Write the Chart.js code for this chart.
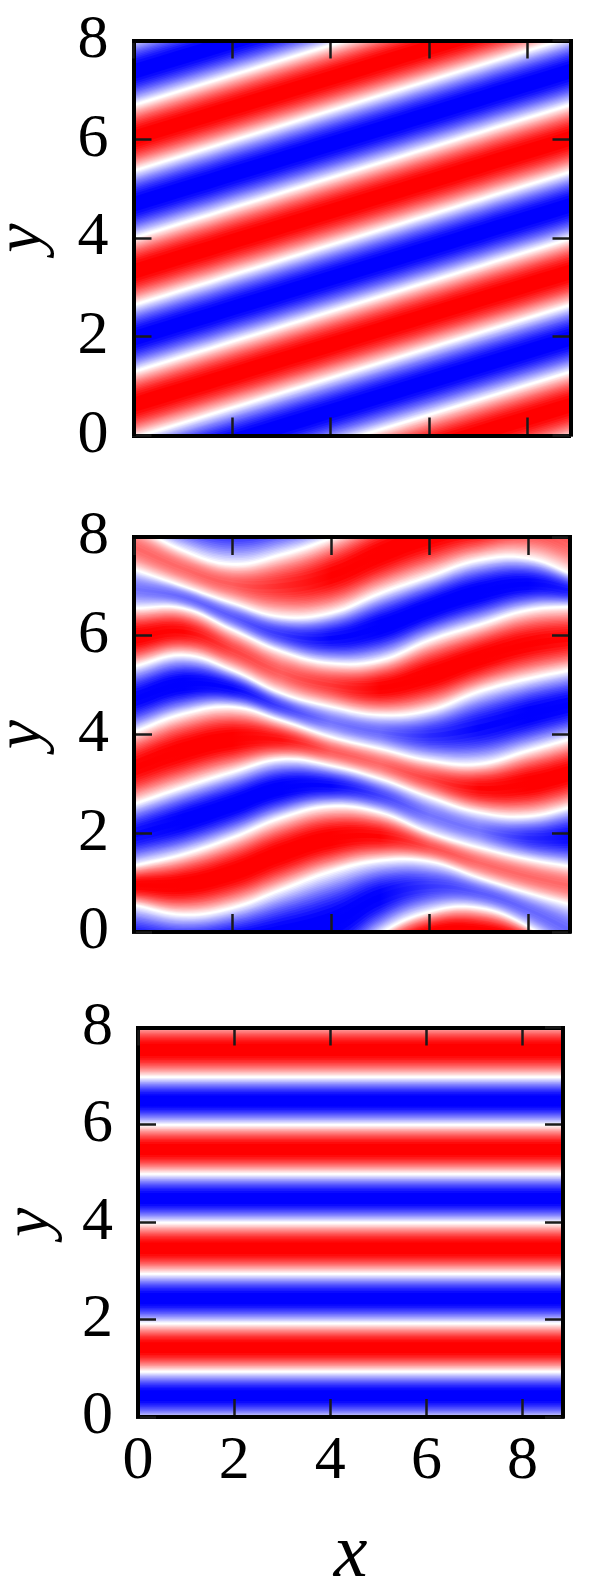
<!DOCTYPE html>
<html>
<head>
<meta charset="utf-8">
<script src="https://cdn.jsdelivr.net/npm/chart.js@4/dist/chart.umd.min.js"></script>
<style>
  html, body { margin: 0; background: #fff; }
  #page { position: relative; width: 598px; height: 1585px; overflow: hidden; }
  canvas { position: absolute; left: 0; filter: blur(0.7px); }
</style>
</head>
<body>
<div id="page">
  <canvas id="top" width="598" height="480" style="top:0"></canvas>
  <canvas id="mid" width="598" height="470" style="top:495px"></canvas>
  <canvas id="bot" width="598" height="600" style="top:985px"></canvas>
</div>
<script>
// white zero lines, listed from the top stripe down
const xs1 = [0, 9];
const lines1 = [
  [8.05, 10.75],
  [6.69, 9.42],
  [5.36, 8.10],
  [4.00, 6.74],
  [2.64, 5.38],
  [1.29, 4.03],
  [-0.05, 2.68],
  [-1.40, 1.33],
  [-2.75, -0.02],
];
const amps1 = [
  [1.08, 1.08], [1.08, 1.08], [1.08, 1.08], [1.08, 1.08],
  [1.08, 1.08], [1.08, 1.08], [1.08, 1.08], [1.08, 1.08],
];

const xs2 = [0, 1, 2, 3, 4, 5, 6, 7, 8, 9];
const lines2 = [
  [9.4, 9.4, 9.4, 9.4, 9.4, 9.4, 9.4, 9.4, 9.4, 9.4],
  [8.25, 7.72, 7.44, 7.64, 7.98, 8.45, 8.85, 8.9, 8.9, 8.5],
  [7.34, 7.0, 6.66, 6.38, 6.46, 6.86, 7.2, 7.53, 7.57, 7.2],
  [6.56, 6.56, 6.12, 5.68, 5.44, 5.5, 5.91, 6.22, 6.52, 6.6],
  [5.38, 5.61, 5.3, 4.83, 4.56, 4.39, 4.49, 4.87, 5.13, 5.33],
  [4.05, 4.42, 4.56, 4.28, 3.95, 3.71, 3.47, 3.4, 3.67, 3.95],
  [2.59, 2.93, 3.24, 3.5, 3.37, 3.1, 2.73, 2.42, 2.34, 2.56],
  [1.34, 1.57, 1.91, 2.32, 2.55, 2.42, 2.01, 1.71, 1.47, 1.3],
  [0.55, 0.35, 0.49, 0.86, 1.23, 1.45, 1.43, 1.1, 0.79, 0.52],
  [-0.9, -0.9, -0.9, -1.0, -0.9, -0.04, 0.41, 0.49, 0.11, -0.6],
  [-2, -2, -2, -2, -1.8, -1, -0.5, -0.5, -0.6, -1],
];
// strength of each stripe in the middle panel along x (above 1 the core is fully saturated)
const amps2 = [
  [1.08, 1.08, 1.08, 1.08, 1.08, 1.08, 1.08, 1.08, 1.08, 1.08],
  [0.6, 0.6, 0.65, 0.85, 1.05, 1.1, 1.1, 1.05, 0.8, 0.6],
  [0.55, 0.6, 0.65, 0.8, 1.0, 1.1, 1.1, 1.1, 1.05, 0.9],
  [1.08, 1.0, 0.75, 0.65, 0.8, 1.05, 1.1, 1.1, 1.05, 1.0],
  [1.05, 1.1, 1.0, 0.75, 0.55, 0.6, 0.85, 1.0, 1.08, 1.05],
  [1.05, 1.1, 1.1, 0.95, 0.65, 0.6, 0.75, 1.0, 1.1, 1.08],
  [1.0, 1.1, 1.1, 1.1, 1.0, 0.75, 0.55, 0.55, 0.85, 1.05],
  [1.05, 1.1, 1.1, 1.1, 1.1, 1.0, 0.7, 0.6, 0.6, 0.6],
  [1.0, 1.0, 1.08, 1.1, 1.1, 1.05, 0.8, 0.65, 0.6, 0.6],
  [1.1, 1.1, 1.1, 1.1, 1.1, 1.1, 1.1, 1.1, 1.1, 1.1],
];

const xs3 = [0, 9];
const lines3 = [
  [8.1, 8.1],
  [6.98, 6.98],
  [6.0, 6.0],
  [4.99, 4.99],
  [3.99, 3.99],
  [2.94, 2.94],
  [1.92, 1.92],
  [0.93, 0.93],
  [-0.05, -0.05],
];
const amps3 = [
  [1.08, 1.08], [1.08, 1.08], [1.08, 1.08], [1.08, 1.08],
  [1.08, 1.08], [1.08, 1.08], [1.08, 1.08], [1.08, 1.08],
];

const FONT = '"Liberation Serif", serif';
const LEVELS = 19;
const LEVEL_STEP = 1 / 16;
const AMP_REF = 1.2;

function levelColor(sign, v) {
  const c = Math.round(255 * (1 - Math.min(1, v)));
  return sign > 0 ? `rgb(255,${c},${c})` : `rgb(${c},${c},255)`;
}

// fill colour of a layer changes along x, so a pale stretch of a stripe stays pale
function layerGradient(context, xs, amps, sign, t) {
  const { chart } = context;
  if (!chart.chartArea) return 'transparent';
  const scale = chart.scales.x;
  const x0 = scale.getPixelForValue(xs[0]);
  const x1 = scale.getPixelForValue(xs[xs.length - 1]);
  const grad = chart.ctx.createLinearGradient(x0, 0, x1, 0);
  xs.forEach((x, i) => {
    grad.addColorStop(i / (xs.length - 1), levelColor(sign, t * amps[i] / AMP_REF));
  });
  return grad;
}

// each stripe becomes nested pairs of lines with the fill between them
function stripeDatasets(xs, lines, amps, firstSign) {
  const sets = [];
  for (let level = LEVELS; level >= 1; level--) {
    const t = level * LEVEL_STEP;
    const f = Math.asin(t / AMP_REF) / Math.PI;
    for (let b = 0; b < lines.length - 1; b++) {
      const sign = b % 2 === 0 ? firstSign : -firstSign;
      const upper = xs.map((x, i) => ({ x, y: lines[b][i] - f * (lines[b][i] - lines[b + 1][i]) }));
      const lower = xs.map((x, i) => ({ x, y: lines[b + 1][i] + f * (lines[b][i] - lines[b + 1][i]) }));
      const common = {
        pointRadius: 0,
        borderWidth: 0,
        borderColor: 'transparent',
        tension: 0.4,
        capBezierPoints: false,
        xAxisID: 'x',
        yAxisID: 'y',
      };
      sets.push({
        ...common,
        data: upper,
        fill: '+1',
        backgroundColor: (context) => layerGradient(context, xs, amps[b], sign, t),
      });
      sets.push({ ...common, data: lower, fill: false });
    }
  }
  return sets;
}

function frameAxis(position, max, visibleLabels, title, size, extra) {
  return {
    type: 'linear',
    position,
    min: 0,
    max,
    afterFit: (s) => {
      if (s.isHorizontal()) s.height = size; else s.width = size;
      s.paddingTop = s.paddingBottom = s.paddingLeft = s.paddingRight = 0;
    },
    border: { display: true, color: '#000', width: 4, z: 1 },
    grid: { drawOnChartArea: false, drawTicks: true, tickLength: -18, tickWidth: 2.5, tickColor: '#1a1a1a', z: 1 },
    ticks: {
      display: visibleLabels,
      stepSize: 2,
      includeBounds: false,
      autoSkip: false,
      maxRotation: 0,
      color: '#000',
      font: { family: FONT, size: 62, lineHeight: 1 },
      ...extra,
    },
    title: title
      ? { display: true, color: '#000', ...title }
      : { display: false },
  };
}

function panel(id, cfg) {
  const xTitle = { text: 'x', padding: 0, font: { family: FONT, style: 'italic', size: 76, lineHeight: 0.7 } };
  const yTitle = { text: 'y', padding: { top: cfg.yTitlePad, bottom: 0 }, font: { family: FONT, style: 'italic', size: 66, lineHeight: 0.7 } };
  new Chart(document.getElementById(id), {
    type: 'line',
    data: { datasets: stripeDatasets(cfg.xs, cfg.lines, cfg.amps, cfg.firstSign) },
    options: {
      responsive: false,
      animation: false,
      events: [],
      layout: { padding: { top: cfg.top, right: 598 - cfg.right, bottom: cfg.padBottom, left: 0 } },
      plugins: { legend: { display: false }, tooltip: { enabled: false } },
      scales: {
        x: frameAxis('bottom', cfg.xMax, cfg.xLabels, cfg.xLabels ? xTitle : null, cfg.xSize, { padding: 32 }),
        y: frameAxis('left', 8, true, yTitle, cfg.left, { padding: 43 }),
        x2: frameAxis('top', cfg.xMax, false, null, 0),
        y2: frameAxis('right', 8, false, null, 0),
      },
    },
  });
}

panel('top', {
  xs: xs1, lines: lines1, amps: amps1, firstSign: -1,
  top: 40.5, left: 133.5, right: 570.5, xMax: 8.87,
  xSize: 44.5, padBottom: 0, xLabels: false, yTitlePad: 0,
});
panel('mid', {
  xs: xs2, lines: lines2, amps: amps2, firstSign: -1,
  top: 42, left: 134, right: 570, xMax: 8.85,
  xSize: 33, padBottom: 0, xLabels: false, yTitlePad: 0,
});
panel('bot', {
  xs: xs3, lines: lines3, amps: amps3, firstSign: 1,
  top: 42.5, left: 138, right: 563, xMax: 8.84,
  xSize: 166, padBottom: 2, xLabels: true, yTitlePad: 8,
});
</script>
</body>
</html>
